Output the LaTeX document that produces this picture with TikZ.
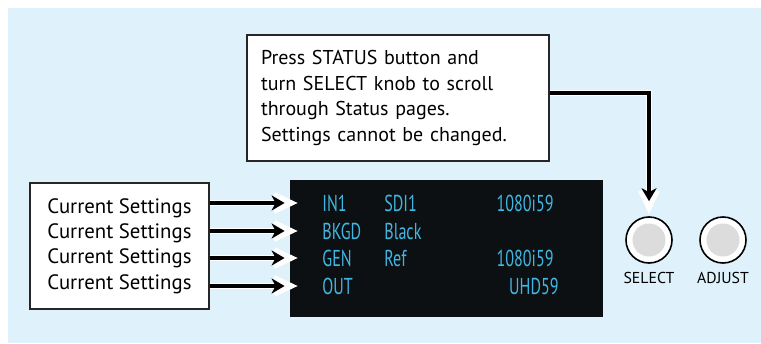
\documentclass[tikz,border=0pt]{standalone}
\usepackage{fontspec}
\setmainfont{PT Sans}
\newfontfamily\scrfont[FakeStretch=0.7]{PT Sans}
\usetikzlibrary{arrows.meta,positioning,calc}

\definecolor{panelbg}{HTML}{DFF1FA}
\definecolor{screenbk}{HTML}{0C1012}
\definecolor{screentxt}{HTML}{42B6E2}
\definecolor{knobgrey}{HTML}{DCDCDC}

\tikzset{
  infobox/.style={draw=black!85, line width=0.6pt, fill=white, align=left},
  scrtext/.style={screentxt, font=\scrfont\fontsize{11.5}{11.5}\selectfont, inner sep=0pt, text height=8pt, text depth=0pt},
  knob/.style={circle, draw, line width=0.8pt, fill=white, minimum size=23pt, inner sep=0pt,
    path picture={\fill[knobgrey] (path picture bounding box.center) circle (8.25pt);}},
  pointer/.style={line width=1.6pt, shorten >=#1, -{Stealth[length=6.5pt,width=7.5pt,inset=2pt]},
    preaction={draw=white, line width=3pt, shorten >=#1-6.5pt, -{Stealth[length=19pt,width=18pt,inset=12pt]}}}
}

\begin{document}
\begin{tikzpicture}[x=0.5pt,y=-0.5pt]
\useasboundingbox (0,0) rectangle (761,343);
\fill[panelbg] (8,8) rectangle (761,343);

% Status note
\node[infobox, text width=137pt, inner xsep=7pt, minimum height=63pt, font=\fontsize{10}{12.75}\selectfont] (note) at (398,98)
  {Press STATUS button and\\turn SELECT knob to scroll\\through Status pages.\\Settings cannot be changed.};

% Current settings
\node[infobox, minimum width=89.5pt, minimum height=63pt, font=\fontsize{10.4}{12.65}\selectfont] (cur) at (119.5,246)
  {Current Settings\\Current Settings\\Current Settings\\Current Settings};

% Screen
\node[fill=screenbk, minimum width=156.5pt, minimum height=68.5pt, inner sep=0pt] (scr) at (446.5,248.5) {};

\node[scrtext, anchor=west] (in1) at (322,203) {IN1};
\node[scrtext, anchor=west] (sdi) at (384,203) {SDI1};
\node[scrtext, anchor=east] (fmtin) at (554,203) {1080i59};

\node[scrtext, anchor=west] (bkgd) at (322,231) {BKGD};
\node[scrtext, anchor=west] (black) at (384,231) {Black};

\node[scrtext, anchor=west] (gen) at (322,258) {GEN};
\node[scrtext, anchor=west] (ref) at (384,258) {Ref};
\node[scrtext, anchor=east] (fmtgen) at (554,258) {1080i59};

\node[scrtext, anchor=west] (out) at (322,286) {OUT};
\node[scrtext, anchor=east] (fmtout) at (559,286) {UHD59};

% Knobs
\node[knob] (sel) at (649,240) {};
\node[knob] (adj) at (723,240) {};
\node[below=4pt of sel, inner sep=0pt, font=\fontsize{7.9}{8}\selectfont] (sellbl) {SELECT};
\node[below=4pt of adj, inner sep=0pt, font=\fontsize{7.9}{8}\selectfont] (adjlbl) {ADJUST};

% Arrows
\draw[pointer=2.5pt] (cur.east |- in1) -- (scr.west |- in1);
\draw[pointer=2.5pt] (cur.east |- bkgd) -- (scr.west |- bkgd);
\draw[pointer=2.5pt] (cur.east |- gen) -- (scr.west |- gen);
\draw[pointer=2.5pt] (cur.east |- out) -- (scr.west |- out);
\draw[pointer=7.5pt] ([yshift=2.5pt]note.east) -| (sel.north);
\end{tikzpicture}
\end{document}
